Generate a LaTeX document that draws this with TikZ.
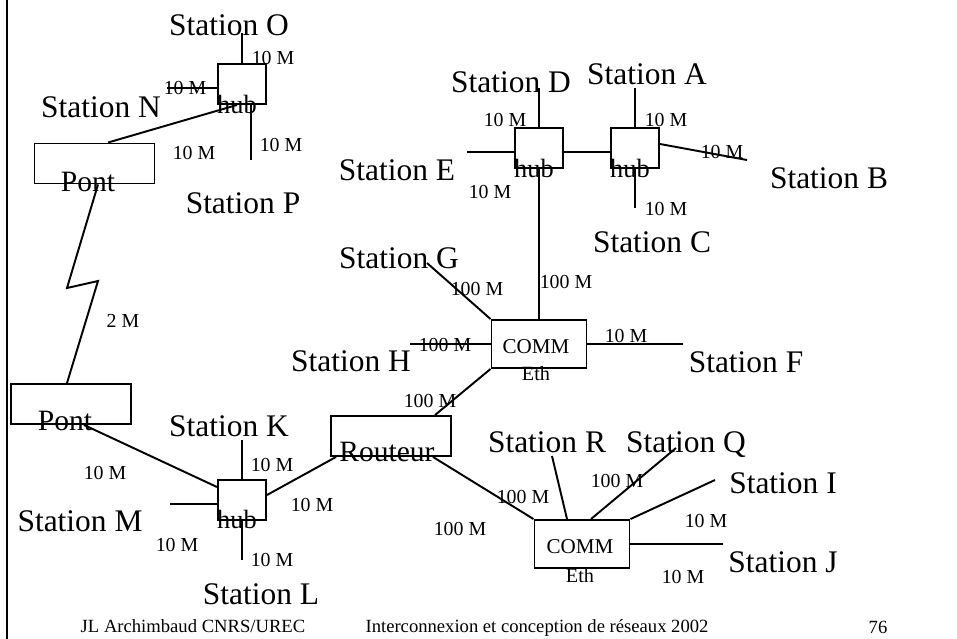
\documentclass[tikz,border=0pt]{standalone}
\usepackage{fontspec}
\setmainfont{Liberation Serif}
\tikzset{
  link/.style={line width=1.1pt},
  station/.style={inner sep=0pt, text depth=0pt, font=\fontsize{17.9}{20}\selectfont},
  rate/.style={inner sep=0pt, text depth=0pt, font=\fontsize{11.3}{13}\selectfont},
  footer/.style={inner sep=0pt, text depth=0pt, font=\fontsize{10.6}{12}\selectfont},
  hubbox/.style={draw, line width=1.1pt, inner sep=0pt, minimum width=0.96cm, minimum height=0.8cm},
  pontbox/.style={draw, line width=1.1pt, inner sep=0pt, minimum width=2.4cm, minimum height=0.8cm},
  commbox/.style={draw, line width=1.1pt, inner sep=0pt, minimum width=1.9cm, minimum height=0.96cm},
  hubtext/.style={inner sep=0pt, text depth=0pt, font=\fontsize{15}{17}\selectfont},
  ponttext/.style={inner sep=0pt, text depth=0pt, font=\fontsize{16.8}{19}\selectfont},
  commtext/.style={inner sep=0pt, text depth=0pt, font=\fontsize{12}{14}\selectfont},
  ethtext/.style={inner sep=0pt, text depth=0pt, font=\fontsize{11.5}{13}\selectfont}
}
\begin{document}
\begin{tikzpicture}[x=0.02cm,y=-0.02cm]
  \useasboundingbox (0,0) rectangle (957,639);

  % Frame on the left
  \draw[line width=1.1pt] (7,0) -- (7,639);

  % Boxes
  \node[hubbox] (hubO) at (242,84) {};
  \node[hubbox] (hubD) at (539,148) {};
  \node[hubbox] (hubA) at (635,148) {};
  \node[hubbox] (hubK) at (242,500) {};
  \node[pontbox] (pont1) at (94.5,163.5) {};
  \node[pontbox] (pont2) at (71,404) {};
  \node[pontbox] (routeur) at (391,436) {};
  \node[commbox] (comm1) at (539,344) {};
  \node[commbox] (comm2) at (582,544) {};

  % Texts of the boxes
  \node[hubtext] (hubOtext) at ([shift={(-5,20)}]hubO.center) {hub};
  \node[hubtext] (hubDtext) at ([shift={(-5,20)}]hubD.center) {hub};
  \node[hubtext] (hubAtext) at ([shift={(-5,20)}]hubA.center) {hub};
  \node[hubtext] (hubKtext) at ([shift={(-5,19)}]hubK.center) {hub};
  \node[ponttext] (pont1text) at ([shift={(-6.5,18.5)}]pont1.center) {Pont};
  \node[ponttext] (pont2text) at ([shift={(-6,17)}]pont2.center) {Pont};
  \node[ponttext] (routeurtext) at ([shift={(-4,16)}]routeur.center) {Routeur};
  \node[commtext] (comm1text) at ([shift={(-3,3)}]comm1.center) {COMM};
  \node[ethtext] (comm1eth) at ([shift={(-3,29)}]comm1.center) {Eth};
  \node[commtext] (comm2text) at ([shift={(-2,3)}]comm2.center) {COMM};
  \node[ethtext] (comm2eth) at ([shift={(-2,31)}]comm2.center) {Eth};

  % Free ends of the station lines
  \coordinate (endO) at (242,33);
  \coordinate (endN) at (167,88);
  \coordinate (endP) at (251,160);
  \coordinate (endK) at (242,440);
  \coordinate (endM) at (170,504);
  \coordinate (endL) at (242,560);
  \coordinate (endD) at (539,88);
  \coordinate (endE) at (467,152);
  \coordinate (endA) at (635,88);
  \coordinate (endB) at (747,160);
  \coordinate (endC) at (635,208);
  \coordinate (endG) at (427,263);
  \coordinate (endH) at (410,344);
  \coordinate (endF) at (683,344);
  \coordinate (endR) at (552,456);
  \coordinate (endQ) at (676,448);
  \coordinate (endI) at (715,480);
  \coordinate (endJ) at (723,544);
  \coordinate (zig1) at (67,288);
  \coordinate (zig2) at (98,281);

  % Hub O
  \draw[link] (hubO.north) -- (endO);
  \draw[link] (endN -| hubO.west) -- (endN);
  \draw[link] (endP |- hubO.south) -- (endP);
  \draw[link] ([xshift=-0.1cm]hubO.south) -- ([xshift=0.27cm]pont1.north);

  % Line at 2 M between the bridges
  \draw[link] ([xshift=0.07cm]pont1.south) -- (zig1) -- (zig2) -- ([xshift=-0.08cm]pont2.north);

  % Hub K
  \draw[link] ([xshift=0.26cm]pont2.south) -- ([yshift=-0.16cm]hubK.north west);
  \draw[link] (hubK.north) -- (endK);
  \draw[link] (endM -| hubK.west) -- (endM);
  \draw[link] (hubK.south) -- (endL);
  \draw[link] ([yshift=0.1cm]hubK.east) -- ([xshift=0.12cm]routeur.south west);

  % Routeur
  \draw[link] ([xshift=0.88cm]routeur.north) -- (comm1.south west);
  \draw[link] ([xshift=0.84cm]routeur.south) -- (comm2.north west);

  % COMM Eth (top)
  \draw[link] (comm1.north) -- (hubD.south);
  \draw[link] (comm1.north west) -- (endG);
  \draw[link] (comm1.west) -- (endH);
  \draw[link] (comm1.east) -- (endF);

  % Hubs D and A
  \draw[link] (hubD.north) -- (endD);
  \draw[link] (endE -| hubD.west) -- (endE);
  \draw[link] ([yshift=-0.08cm]hubD.east) -- ([yshift=-0.08cm]hubA.west);
  \draw[link] (hubA.north) -- (endA);
  \draw[link] ([yshift=0.08cm]hubA.east) -- (endB);
  \draw[link] (hubA.south) -- (endC);

  % COMM Eth (bottom)
  \draw[link] ([xshift=-0.3cm]comm2.north) -- (endR);
  \draw[link] ([xshift=0.18cm]comm2.north) -- (endQ);
  \draw[link] (comm2.north east) -- (endI);
  \draw[link] (comm2.east) -- (endJ);

  % Stations
  \node[station] (stationO) at (229,25) {Station O};
  \node[station] (stationN) at (101,107) {Station N};
  \node[station] (stationP) at (243,203) {Station P};
  \node[station] (stationK) at (229,426) {Station K};
  \node[station] (stationM) at (80,521) {Station M};
  \node[station] (stationL) at (261,594) {Station L};
  \node[station] (stationD) at (511,82) {Station D};
  \node[station] (stationA) at (647,74) {Station A};
  \node[station] (stationE) at (397,170) {Station E};
  \node[station] (stationB) at (829,178) {Station B};
  \node[station] (stationC) at (652,242) {Station C};
  \node[station] (stationG) at (399,258) {Station G};
  \node[station] (stationH) at (351,361) {Station H};
  \node[station] (stationF) at (746,362) {Station F};
  \node[station] (stationR) at (547,442) {Station R};
  \node[station] (stationQ) at (686,442) {Station Q};
  \node[station] (stationI) at (783,483) {Station I};
  \node[station] (stationJ) at (783,562) {Station J};

  % Rates
  \node[rate] (rateO) at (273,58) {10 M};
  \node[rate] (rateN) at (185,88) {10 M};
  \node[rate] (rateP) at (281,145) {10 M};
  \node[rate] (ratePont1) at (194,153) {10 M};
  \node[rate] (rateZig) at (123,321) {2 M};
  \node[rate] (rateK) at (272,465) {10 M};
  \node[rate] (ratePont2) at (105,473) {10 M};
  \node[rate] (rateM) at (177,545) {10 M};
  \node[rate] (rateL) at (272,560) {10 M};
  \node[rate] (rateRouteurK) at (312,505) {10 M};
  \node[rate] (rateRouteur1) at (430,401) {100 M};
  \node[rate] (rateRouteur2) at (460,529) {100 M};
  \node[rate] (rateComm2) at (523,497) {100 M};
  \node[rate] (rateG) at (477,289) {100 M};
  \node[rate] (rateHubD) at (566,282) {100 M};
  \node[rate] (rateH) at (445,345) {100 M};
  \node[rate] (rateF) at (626,336) {10 M};
  \node[rate] (rateD) at (505,120) {10 M};
  \node[rate] (rateE) at (490,192) {10 M};
  \node[rate] (rateA) at (666,120) {10 M};
  \node[rate] (rateB) at (722,152) {10 M};
  \node[rate] (rateC) at (666,209) {10 M};
  \node[rate] (rateQ) at (617,481) {100 M};
  \node[rate] (rateI) at (706,521) {10 M};
  \node[rate] (rateJ) at (683,577) {10 M};

  % Footer
  \node[footer] (author) at (193,626) {JL Archimbaud CNRS/UREC};
  \node[footer] (title) at (537,626) {Interconnexion et conception de réseaux 2002};
  \node[footer] (page) at (878,627) {76};
\end{tikzpicture}
\end{document}
